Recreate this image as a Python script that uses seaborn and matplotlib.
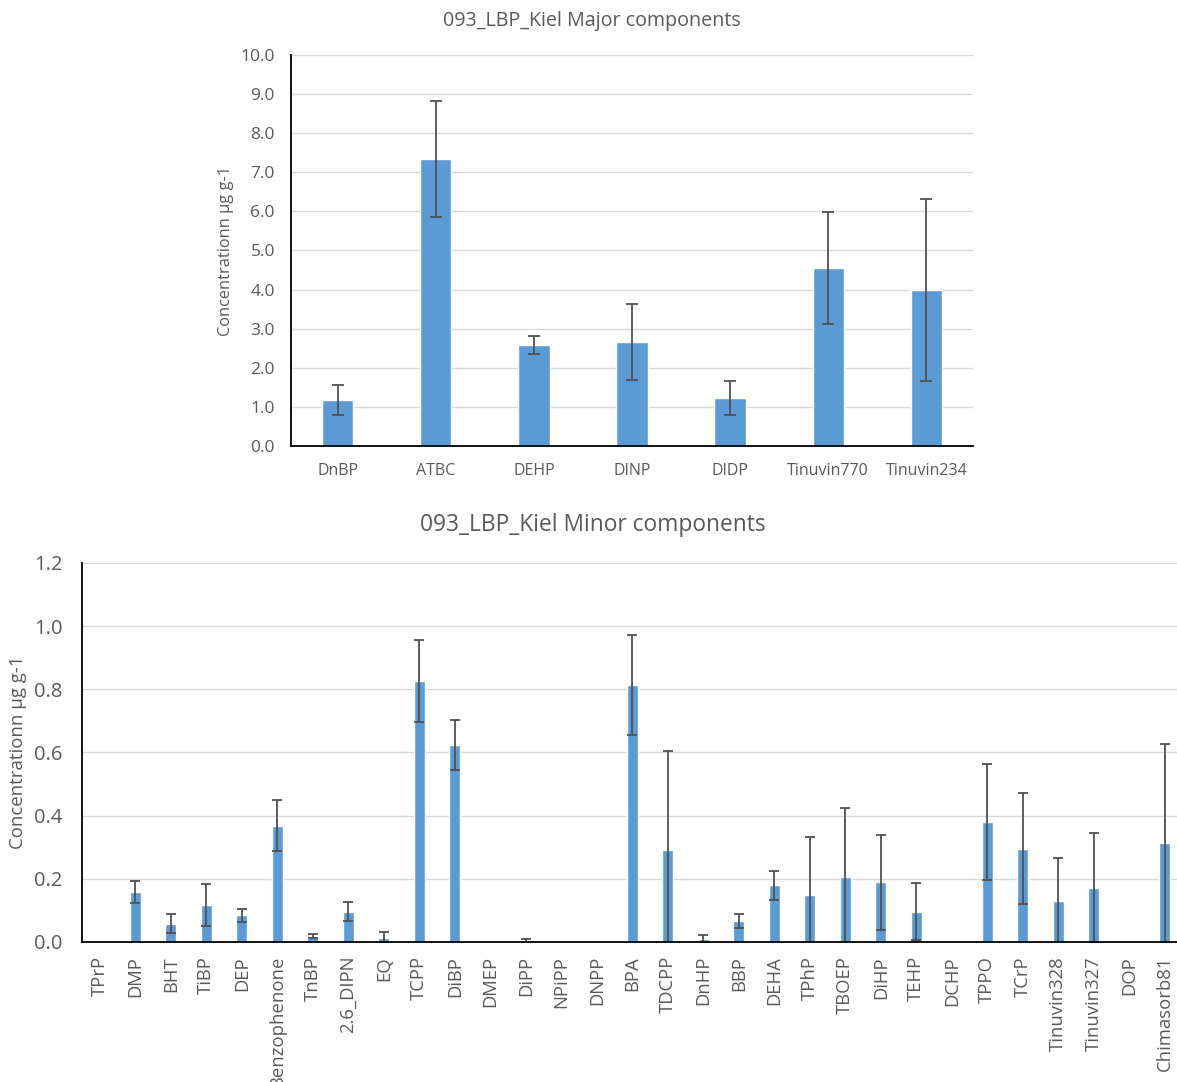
import numpy as np
import pandas as pd
import matplotlib
matplotlib.use("Agg")
import matplotlib.pyplot as plt
import seaborn as sns

# ---- data -------------------------------------------------------------
major_names = ["DnBP", "ATBC", "DEHP", "DINP", "DIDP", "Tinuvin770", "Tinuvin234"]
major_mean = [1.18, 7.34, 2.58, 2.66, 1.23, 4.56, 3.99]
major_sd = [0.38, 1.48, 0.23, 0.98, 0.43, 1.43, 2.33]

minor_names = ["TPrP", "DMP", "BHT", "TiBP", "DEP", "Benzophenone", "TnBP",
               "2.6_DIPN", "EQ", "TCPP", "DiBP", "DMEP", "DiPP", "NPiPP",
               "DNPP", "BPA", "TDCPP", "DnHP", "BBP", "DEHA", "TPhP", "TBOEP",
               "DiHP", "TEHP", "DCHP", "TPPO", "TCrP", "Tinuvin328",
               "Tinuvin327", "DOP", "Chimasorb81"]
minor_mean = [0.0, 0.158, 0.058, 0.117, 0.085, 0.368, 0.019, 0.096, 0.014,
              0.827, 0.625, 0.0, 0.004, 0.0, 0.0, 0.814, 0.292, 0.009, 0.067,
              0.179, 0.150, 0.207, 0.189, 0.096, 0.0, 0.380, 0.295, 0.129,
              0.172, 0.0, 0.312]
minor_sd = [0.0, 0.036, 0.030, 0.067, 0.021, 0.081, 0.006, 0.031, 0.018,
            0.129, 0.079, 0.0, 0.006, 0.0, 0.0, 0.158, 0.313, 0.012, 0.023,
            0.047, 0.182, 0.217, 0.151, 0.090, 0.0, 0.183, 0.176, 0.138,
            0.173, 0.0, 0.315]

# ---- style ------------------------------------------------------------
sns.set_theme(style="white")
plt.rcParams["font.family"] = ["Open Sans", "DejaVu Sans"]

BAR = "#5B9BD5"
TXT = "#595959"
GRID = "#D9D9D9"
ERR = "#505050"

fig = plt.figure(figsize=(11.77, 10.82), dpi=100)


def style_axes(ax, ymax, step, tick_size):
    ax.set_ylim(0, ymax)
    ax.set_yticks(np.arange(0, ymax + step / 2, step))
    ax.yaxis.set_major_formatter(matplotlib.ticker.FormatStrFormatter("%.1f"))
    ax.grid(axis="y", color=GRID, linewidth=1.0)
    ax.set_axisbelow(True)
    for side in ("top", "right"):
        ax.spines[side].set_visible(False)
    for side in ("left", "bottom"):
        ax.spines[side].set_color("black")
        ax.spines[side].set_linewidth(1.3)
    ax.tick_params(axis="both", length=0, colors=TXT, labelsize=tick_size)
    ax.set_xlabel("")


# ---- major components -------------------------------------------------
ax1 = fig.add_axes([0.2472, 0.5878, 0.5795, 0.3614])
df_major = pd.DataFrame({"name": major_names, "value": major_mean})
sns.barplot(data=df_major, x="name", y="value", color=BAR, saturation=1,
            width=0.32, ax=ax1)
ax1.errorbar(np.arange(len(major_names)), major_mean, yerr=major_sd,
             fmt="none", ecolor=ERR, elinewidth=1.3, capsize=4.5,
             capthick=1.3)
style_axes(ax1, 10.0, 1.0, 12.5)
ax1.tick_params(axis="x", labelsize=11.5, pad=12)
ax1.tick_params(axis="y", pad=11.5)
ax1.set_ylabel("Concentrationn μg g-1", color=TXT, fontsize=11.8, labelpad=5)
fig.text(0.503, 0.981, "093_LBP_Kiel Major components", color=TXT,
         fontsize=14.2, ha="center", va="center")

# ---- minor components -------------------------------------------------
ax2 = fig.add_axes([0.0697, 0.1294, 0.935, 0.3503])
df_minor = pd.DataFrame({"name": minor_names, "value": minor_mean})
sns.barplot(data=df_minor, x="name", y="value", color=BAR, saturation=1,
            width=0.31, ax=ax2)
idx = np.array([i for i, v in enumerate(minor_mean) if v > 0])
ax2.errorbar(idx, np.array(minor_mean)[idx], yerr=np.array(minor_sd)[idx],
             fmt="none", ecolor=ERR, elinewidth=1.3, capsize=3.5,
             capthick=1.3)
style_axes(ax2, 1.2, 0.2, 14.5)
ax2.set_xlim(-0.5, len(minor_names) - 0.5)
ax2.tick_params(axis="x", rotation=90, labelsize=13.3, pad=10)
ax2.tick_params(axis="y", pad=14)
ax2.set_ylabel("Concentrationn μg g-1", color=TXT, fontsize=13.4, labelpad=5)
fig.text(0.504, 0.515, "093_LBP_Kiel Minor components", color=TXT,
         fontsize=16.4, ha="center", va="center")

fig.savefig("out.png", dpi=100)
